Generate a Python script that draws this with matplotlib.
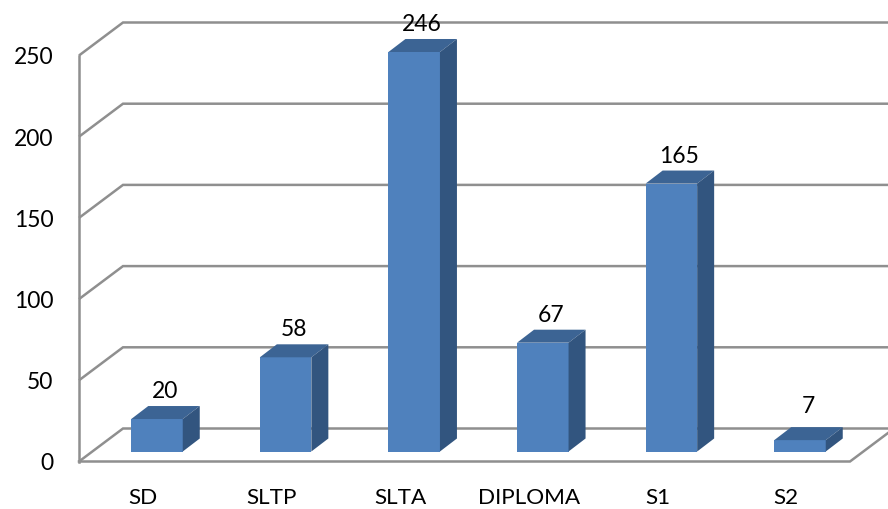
import matplotlib
matplotlib.use('Agg')
import matplotlib.pyplot as plt
from matplotlib.patches import Polygon
import numpy as np

categories = ['SD', 'SLTP', 'SLTA', 'DIPLOMA', 'S1', 'S2']
values = [20, 58, 246, 67, 165, 7]
y_ticks = [0, 50, 100, 150, 200, 250]

plt.rcParams['font.family'] = ['Lato', 'DejaVu Sans']

W, H = 888, 510
PX_X = 128.6    # pixels per category
PX_Y = 1.624    # pixels per value unit
X0, Y0 = 157, 462.5  # pixel of category 0 / value 0

fig = plt.figure(figsize=(W / 100, H / 100), dpi=100)
ax = fig.add_axes([0, 0, 1, 1])
ax.set_xlim(-X0 / PX_X, (W - X0) / PX_X)
ax.set_ylim((Y0 - H) / PX_Y, Y0 / PX_Y)
ax.axis('off')


def dx(px):
    return px / PX_X


def dy(px):
    return px / PX_Y


GRID = '#8f8f8f'
left, right = dx(79 - X0), dx(850 - X0)
wall_dx, wall_dy = dx(44), dy(33)

# floor and side wall
for v in y_ticks:
    ax.plot([left, left + wall_dx, ax.get_xlim()[1]],
            [v, v + wall_dy, v + wall_dy],
            color=GRID, lw=1.8, solid_capstyle='butt', solid_joinstyle='miter', zorder=1)
    ax.text(left - dx(25.5), v - dy(1.5), str(v), ha='right', va='center', fontsize=16.5, color='black')
ax.plot([left, left], [0, 250], color=GRID, lw=1.8, zorder=1)
ax.plot([left, right, right + wall_dx], [0, 0, wall_dy],
        color=GRID, lw=1.8, solid_joinstyle='miter', zorder=1)

# 3d columns: front face, top and side
bar_w = dx(51.5) / 2
off_x, off_y = dx(17), dy(13)
base = dy(10)
for i, (name, v) in enumerate(zip(categories, values)):
    top = base + v
    ax.add_patch(Polygon([(i - bar_w, base), (i + bar_w, base), (i + bar_w, top), (i - bar_w, top)],
                         facecolor='#4f81bd', edgecolor='none', zorder=3))
    ax.add_patch(Polygon([(i - bar_w, top), (i + bar_w, top), (i + bar_w + off_x, top + off_y),
                          (i - bar_w + off_x, top + off_y)],
                         facecolor='#3c6494', edgecolor='none', zorder=3))
    ax.add_patch(Polygon([(i + bar_w, base), (i + bar_w + off_x, base + off_y),
                          (i + bar_w + off_x, top + off_y), (i + bar_w, top)],
                         facecolor='#32557f', edgecolor='none', zorder=3))
    # the S2 label sits a little higher
    lift = 35 if name == 'S2' else 28.5
    ax.text(i + dx(8), top + dy(lift), str(v), ha='center', va='center',
            fontsize=16.5, color='black', zorder=4)
    ax.text(i - dx(14), dy(-35.5), name, ha='center', va='center', fontsize=16.2, color='black')

fig.savefig('out.png', dpi=100)
